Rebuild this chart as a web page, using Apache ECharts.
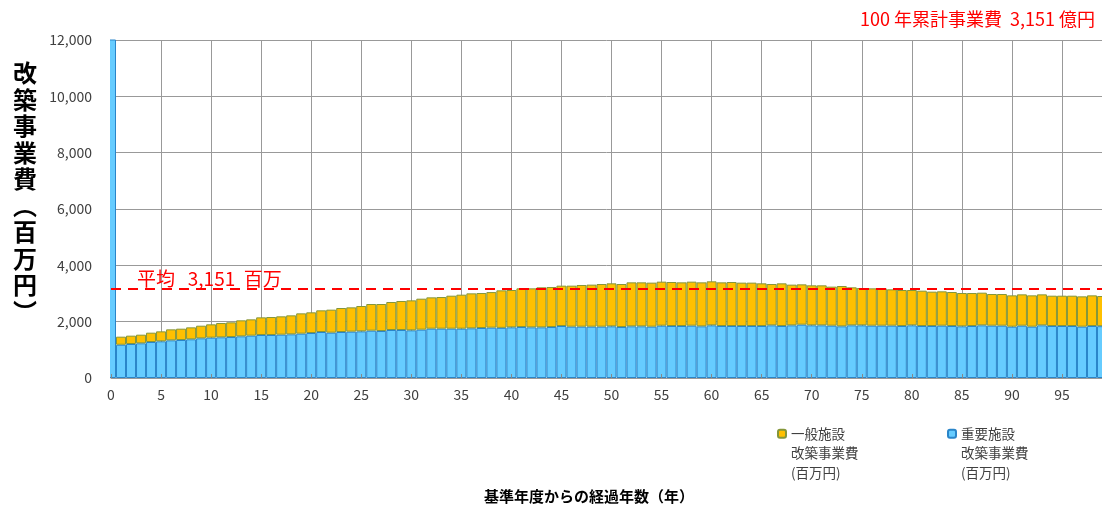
<!DOCTYPE html>
<html>
<head>
<meta charset="utf-8">
<script src="https://cdn.jsdelivr.net/npm/echarts@6/dist/echarts.min.js"></script>
<style>
html,body{margin:0;padding:0;background:#fff;}
#chart{width:1102px;height:505px;}
</style>
</head>
<body>
<div id="chart"></div>
<script>
// Years since base year (0..99)
var years = [];
for (var i = 0; i < 100; i++) years.push(String(i));

// 重要施設 改築事業費 (百万円)
var importantCost = [
  23000,1180,1207,1231,1278,1302,1337,1349,1373,1408,
  1432,1444,1455,1479,1503,1527,1527,1538,1550,1574,
  1597,1633,1609,1633,1645,1656,1680,1668,1704,1704,
  1692,1716,1751,1751,1751,1751,1763,1775,1787,1780,
  1798,1810,1798,1798,1810,1846,1822,1822,1822,1822,
  1834,1810,1834,1834,1822,1857,1846,1846,1857,1834,
  1869,1846,1846,1846,1846,1846,1869,1846,1869,1893,
  1869,1869,1857,1834,1869,1869,1857,1857,1857,1846,
  1869,1846,1846,1857,1846,1834,1846,1869,1857,1857,
  1822,1857,1822,1869,1846,1846,1846,1822,1846,1840
];

// 一般施設 改築事業費 (百万円)
var generalCost = [
  0,287,296,307,331,354,390,402,425,449,
  473,508,521,568,579,626,638,651,674,721,
  734,769,817,852,863,900,947,959,994,1030,
  1065,1100,1112,1124,1171,1207,1242,1242,1263,1332,
  1326,1373,1385,1421,1421,1432,1456,1480,1492,1515,
  1527,1527,1562,1562,1563,1563,1562,1550,1563,1562,
  1563,1550,1562,1539,1539,1515,1468,1515,1445,1432,
  1421,1421,1386,1432,1350,1326,1326,1326,1291,1278,
  1255,1254,1219,1220,1207,1183,1171,1160,1125,1125,
  1112,1113,1112,1101,1076,1076,1076,1077,1088,1070
];

var averageValue = 3151;
var averageLabel = '平均   3,151  百万';
var totalTitle = '100 年累計事業費  3,151 億円';
var yAxisTitle = ['改','築','事','業','費','︵','百','万','円','︶'];
var xAxisTitle = '基準年度からの経過年数（年）';
var nameGeneral = '一般施設\n改築事業費\n(百万円)';
var nameImportant = '重要施設\n改築事業費\n(百万円)';

var FONT = '"Noto Sans CJK JP", "Noto Sans", sans-serif';

var chart = echarts.init(document.getElementById('chart'), null, {renderer: 'canvas'});

var legendText = {
  fontFamily: FONT,
  fontSize: 13.5,
  color: '#404040',
  lineHeight: 19.5
};
function legendFormatter(name) { return '\n\n' + name; }

chart.setOption({
  animation: false,
  backgroundColor: '#ffffff',
  textStyle: {fontFamily: FONT},
  title: {
    text: totalTitle,
    right: 7,
    top: 10,
    padding: 0,
    textStyle: {color: '#ff0000', fontSize: 18, fontWeight: 'normal', fontFamily: FONT}
  },
  grid: {left: 111, right: -8, top: 40, bottom: 127, containLabel: false},
  legend: [
    {
      data: [nameGeneral],
      left: 772,
      top: 380,
      itemWidth: 8,
      itemHeight: 8,
      formatter: legendFormatter,
      textStyle: legendText,
      selectedMode: false
    },
    {
      data: [nameImportant],
      left: 942,
      top: 380,
      itemWidth: 8,
      itemHeight: 8,
      formatter: legendFormatter,
      textStyle: legendText,
      selectedMode: false
    }
  ],
  xAxis: [
    {
      type: 'category',
      data: years,
      boundaryGap: false,
      axisLine: {show: true, lineStyle: {color: '#999', width: 1}},
      axisTick: {show: false},
      axisLabel: {interval: 4, color: '#404040', fontSize: 14, margin: 10, fontFamily: FONT},
      splitLine: {show: true, interval: 4, lineStyle: {color: '#999', width: 1}}
    },
    {
      type: 'category',
      data: years,
      boundaryGap: false,
      position: 'bottom',
      z: 10,
      axisLine: {show: false},
      axisTick: {show: true, inside: true, length: 4, interval: 4, lineStyle: {color: '#888', width: 1}},
      axisLabel: {show: false},
      splitLine: {show: false}
    }
  ],
  yAxis: {
    type: 'value',
    min: 0,
    max: 12000,
    interval: 2000,
    axisLine: {show: false},
    axisTick: {show: false},
    axisLabel: {color: '#404040', fontSize: 14, margin: 19, fontFamily: FONT},
    splitLine: {show: true, lineStyle: {color: '#999', width: 1}}
  },
  series: [
    {
      name: nameImportant,
      type: 'bar',
      stack: 'cost',
      data: importantCost,
      barCategoryGap: '0%',
      itemStyle: {color: '#66CCFF', borderColor: '#2A85C9', borderWidth: 1},
      markLine: {
        silent: true,
        symbol: 'none',
        data: [{yAxis: averageValue}],
        lineStyle: {color: '#ff0000', type: [10, 7], width: 2},
        label: {
          show: true,
          position: 'insideStartTop',
          distance: [26, 1],
          formatter: averageLabel,
          color: '#ff0000',
          fontSize: 19,
          fontFamily: FONT
        }
      }
    },
    {
      name: nameGeneral,
      type: 'bar',
      stack: 'cost',
      data: generalCost,
      barCategoryGap: '0%',
      itemStyle: {color: '#FFC000', borderColor: '#84963A', borderWidth: 1}
    }
  ],
  graphic: [
    {
      // mask: hides the half of the first bar that falls left of the plot area
      type: 'rect',
      z: 100,
      shape: {x: 96, y: 38, width: 14, height: 341},
      style: {fill: '#ffffff'}
    },
    {
      type: 'text',
      left: 13,
      top: 60,
      style: {
        text: yAxisTitle.join('\n'),
        fontSize: 24,
        lineHeight: 26.5,
        fontWeight: 'bold',
        fontFamily: FONT,
        fill: '#000',
        align: 'center'
      }
    },
    {
      type: 'text',
      x: 589,
      y: 496,
      style: {
        text: xAxisTitle,
        fontSize: 15,
        fontWeight: 'bold',
        fontFamily: FONT,
        fill: '#000',
        align: 'center',
        verticalAlign: 'middle'
      }
    }
  ]
});
</script>
</body>
</html>
